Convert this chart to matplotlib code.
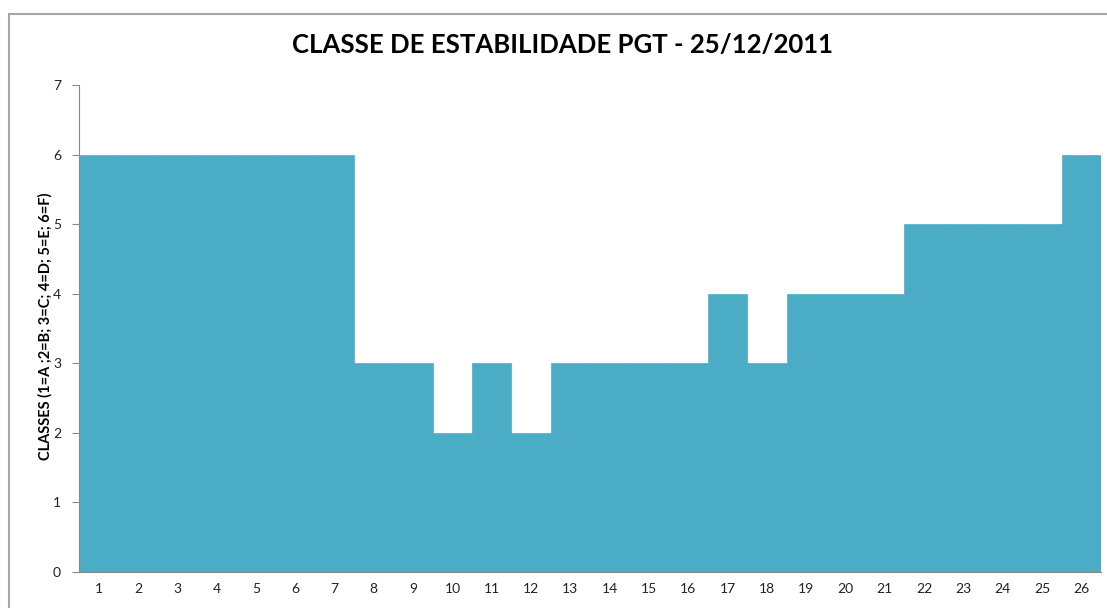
import matplotlib
matplotlib.use("Agg")
import matplotlib.pyplot as plt
from matplotlib.patches import Rectangle

hours = [str(i) for i in range(1, 27)]
classes = [6, 6, 6, 6, 6, 6, 6, 3, 3, 2, 3, 2, 3, 3, 3, 3, 4, 3, 4, 4, 4, 5, 5, 5, 5, 6]
title = "CLASSE DE ESTABILIDADE PGT - 25/12/2011"
ylabel = "CLASSES (1=A ;2=B; 3=C; 4=D; 5=E; 6=F)"

plt.rcParams['font.family'] = ['Lato', 'DejaVu Sans']

fig = plt.figure(figsize=(11.07, 6.08), dpi=100)
fig.patches.append(Rectangle((9/1107, -0.2), 2.0, 0.2 + (608-14)/608,
                             transform=fig.transFigure, fill=False,
                             edgecolor='#a6a6a6', linewidth=1.5))
ax = fig.add_axes([79/1107, (608-572)/608, (1101-79)/1107, (572-85)/608])

x = list(range(len(hours)))
ax.bar(x, classes, width=1.0, color='#4BACC6', edgecolor='#4BACC6', linewidth=0.5)
ax.set_xlim(-0.5, len(hours) - 0.5)
ax.set_ylim(0, 7)
ax.set_yticks(range(0, 8))
ax.set_xticks(x)
ax.set_xticklabels(hours)
ax.tick_params(axis='x', length=0, labelsize=10, pad=8, labelcolor='#222222')
ax.tick_params(axis='y', length=5, color='#888888', labelsize=10, pad=8, labelcolor='#222222')
for s in ['top', 'right']:
    ax.spines[s].set_visible(False)
for s in ['left', 'bottom']:
    ax.spines[s].set_color('#888888')
fig.text(563/1107, 1 - 45/608, title, ha='center', va='center', fontsize=18.5, fontweight='bold')
fig.text(45/1107, 1 - 326/608, ylabel, ha='center', va='center', rotation=90, fontsize=10.5, fontweight='bold')

fig.savefig("out.png", dpi=100)
